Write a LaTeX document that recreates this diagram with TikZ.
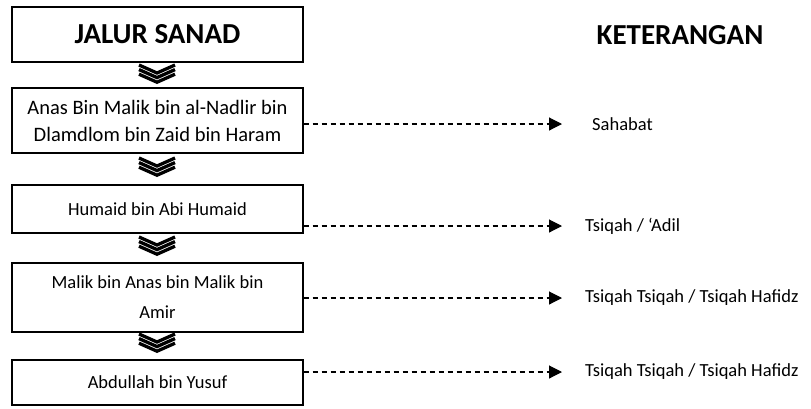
\documentclass[tikz,border=0pt]{standalone}
\usepackage{fontspec}
\setmainfont{Carlito}
\usetikzlibrary{arrows.meta}

\begin{document}
\begin{tikzpicture}
  [x=1pt, y=-1pt,
   box/.style={draw, line width=1.3pt, minimum width=291pt, inner sep=0pt,
     align=center, font=\fontsize{18.5}{30}\selectfont},
   note/.style={anchor=west, inner sep=0pt, font=\fontsize{18.5}{22}\selectfont},
   head/.style={font=\fontsize{29}{34}\selectfont\bfseries},
   link/.style={dashed, dash pattern=on 5pt off 4pt, line width=1.1pt,
     -{Triangle[length=13pt, width=13pt]}}]
  \useasboundingbox (0,0) rectangle (811,408);

  \node[box, head, minimum height=55pt] (b1) at (157.5, 34.5) {JALUR SANAD};
  \node[box, minimum height=65pt, font=\fontsize{20.5}{27}\selectfont] (b2)
    at (157.5, 120.5)
    {Anas Bin Malik bin al-Nadlir bin\\Dlamdlom bin Zaid bin Haram};
  \node[box, minimum height=48pt] (b3) at (157.5, 209) {Humaid bin Abi Humaid};
  \node[box, minimum height=69pt] (b4) at (157.5, 297.5)
    {Malik bin Anas bin Malik bin\\Amir};
  \node[box, minimum height=45pt] (b5) at (157.5, 382.5) {Abdullah bin Yusuf};

  \node[head] (ket) at (680, 35) {KETERANGAN};

  \node[note] (k1) at (592, 124) {Sahabat};
  \node[note] (k2) at (585, 226) {Tsiqah / ‘Adil};
  \node[note] (k3) at (585, 298) {Tsiqah Tsiqah / Tsiqah Hafidz};
  \node[note] (k4) at (585, 372) {Tsiqah Tsiqah / Tsiqah Hafidz};

  \coordinate (e1) at (562, 124);
  \coordinate (e2) at (562, 226);
  \coordinate (e3) at (562, 298);
  \coordinate (e4) at (562, 372);

  \foreach \from/\to in {b2/e1,b3/e2,b4/e3,b5/e4}
  \draw[link] (\from.east |- \to) -- (\to);

  % chevrons between the boxes
  \foreach \y in {65,158,237,334}
  \foreach \d in {0,4.6,9.2}
  \draw[line width=3.3pt, miter limit=10]
    (139, \y+\d) -- (157, \y+\d+8) -- (175, \y+\d);
\end{tikzpicture}
\end{document}
